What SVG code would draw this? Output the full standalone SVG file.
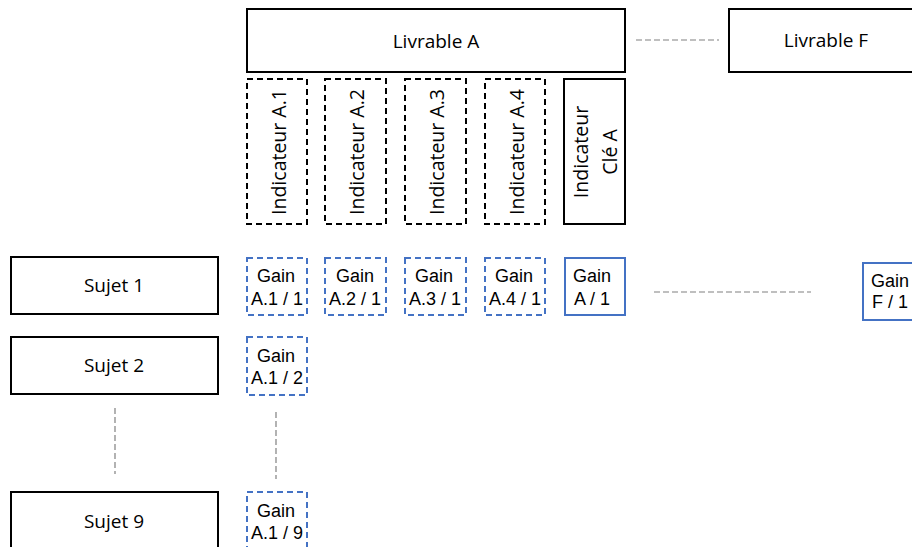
<svg xmlns="http://www.w3.org/2000/svg" width="912" height="547" viewBox="0 0 912 547">
<style>
.box{fill:#fff;stroke:#000;stroke-width:2}
.ind{fill:#fff;stroke:#000;stroke-width:2;stroke-dasharray:6 4}
.gd{fill:#fff;stroke:#4472C4;stroke-width:2;stroke-dasharray:6 4}
.gs{fill:#fff;stroke:#4472C4;stroke-width:2}
.lbl{font-family:"Open Sans","DejaVu Sans",sans-serif;font-size:19px;fill:#000;text-anchor:middle}
.il{font-family:"Open Sans","DejaVu Sans",sans-serif;font-size:19.5px;fill:#000;text-anchor:middle}
.g{font-family:"Liberation Sans",Arial,sans-serif;font-size:18px;fill:#000;text-anchor:middle}
.conn{stroke:#808080;stroke-width:1.2;stroke-dasharray:6 3;fill:none}
</style>
<rect width="912" height="547" fill="#fff"/>
<g id="connectors">
<line class="conn" x1="636" y1="40" x2="719" y2="40"/>
<line class="conn" x1="654" y1="292" x2="811" y2="292"/>
<line class="conn" x1="115" y1="408" x2="115" y2="474"/>
<line class="conn" x1="276" y1="412" x2="276" y2="479"/>
</g>
<g id="livrableA"><rect class="box" x="247" y="9" width="378" height="63"/><text class="lbl" x="436" y="48">Livrable A</text></g>
<g id="livrableF"><rect class="box" x="729" y="9" width="190" height="63"/><text class="lbl" x="826" y="47">Livrable F</text></g>
<g id="indA1"><rect class="ind" x="247" y="79" width="60" height="145"/><text class="il" transform="translate(286,152) rotate(-90)">Indicateur A.1</text></g>
<g id="indA2"><rect class="ind" x="325" y="79" width="61" height="145"/><text class="il" transform="translate(364,152) rotate(-90)">Indicateur A.2</text></g>
<g id="indA3"><rect class="ind" x="405" y="79" width="61" height="145"/><text class="il" transform="translate(444,152) rotate(-90)">Indicateur A.3</text></g>
<g id="indA4"><rect class="ind" x="485" y="79" width="60" height="145"/><text class="il" transform="translate(524,152) rotate(-90)">Indicateur A.4</text></g>
<g id="indCle"><rect class="box" x="564" y="79" width="61" height="145"/><text class="il" transform="translate(588,152) rotate(-90)">Indicateur</text><text class="il" transform="translate(617,152) rotate(-90)">Clé A</text></g>
<g id="sujet1"><rect class="box" x="11" y="257" width="207" height="57"/><text class="lbl" x="114" y="292">Sujet 1</text></g>
<g id="sujet2"><rect class="box" x="11" y="337" width="207" height="57"/><text class="lbl" x="114" y="372">Sujet 2</text></g>
<g id="sujet9"><rect class="box" x="11" y="492" width="207" height="60"/><text class="lbl" x="114" y="528">Sujet 9</text></g>
<g id="gainA1_1"><rect class="gd" x="247" y="258" width="60" height="57"/><text class="g" x="276" y="282">Gain</text><text class="g" x="277" y="305">A.1 / 1</text></g>
<g id="gainA2_1"><rect class="gd" x="325" y="258" width="61" height="57"/><text class="g" x="355" y="282">Gain</text><text class="g" x="355" y="305">A.2 / 1</text></g>
<g id="gainA3_1"><rect class="gd" x="405" y="258" width="61" height="57"/><text class="g" x="434" y="282">Gain</text><text class="g" x="435" y="305">A.3 / 1</text></g>
<g id="gainA4_1"><rect class="gd" x="485" y="258" width="60" height="57"/><text class="g" x="514" y="282">Gain</text><text class="g" x="515" y="305">A.4 / 1</text></g>
<g id="gainA_1"><rect class="gs" x="565" y="258" width="60" height="57"/><text class="g" x="592" y="282">Gain</text><text class="g" x="592" y="305">A / 1</text></g>
<g id="gainF_1"><rect class="gs" x="863" y="263" width="60" height="57"/><text class="g" x="890" y="287">Gain</text><text class="g" x="890" y="308">F / 1</text></g>
<g id="gainA1_2"><rect class="gd" x="247" y="337" width="60" height="58"/><text class="g" x="276" y="362">Gain</text><text class="g" x="277" y="384">A.1 / 2</text></g>
<g id="gainA1_9"><rect class="gd" x="247" y="492" width="60" height="60"/><text class="g" x="276" y="517">Gain</text><text class="g" x="277" y="539">A.1 / 9</text></g>
</svg>
